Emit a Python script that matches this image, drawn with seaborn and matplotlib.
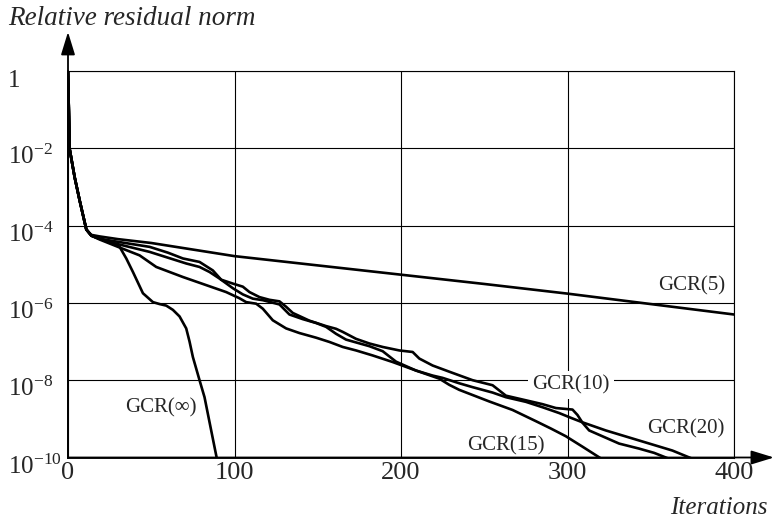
import numpy as np
import pandas as pd
import matplotlib
matplotlib.use("Agg")
import matplotlib.pyplot as plt
import matplotlib.transforms as mtransforms
from matplotlib.ticker import NullLocator
import seaborn as sns

# Convergence histories: iteration counts and log10 of the relative residual norm
gcr5_iter = [0, 1, 4, 7, 11, 14, 19, 30, 50, 75, 100, 150, 200, 250, 300, 350, 400]
gcr5_log = [0, -2.02, -2.75, -3.35, -4.1, -4.24, -4.28, -4.35, -4.45, -4.62, -4.79,
            -5.03, -5.27, -5.51, -5.76, -6.03, -6.3]

gcr10_iter = [0, 1, 4, 7, 11, 14, 19, 30, 49, 60, 69, 79, 87, 92, 99, 105, 109, 115,
              121, 127, 131, 135, 145, 155, 161, 165, 173, 181, 189, 199, 207, 211,
              219, 229, 243, 255, 263, 275, 285, 293, 303, 306, 309, 313, 322, 331,
              343, 352, 362]
gcr10_log = [0, -2.02, -2.75, -3.35, -4.1, -4.26, -4.34, -4.42, -4.55, -4.7, -4.85,
             -4.94, -5.16, -5.4, -5.5, -5.58, -5.72, -5.85, -5.92, -5.96, -6.1, -6.26,
             -6.46, -6.6, -6.67, -6.75, -6.93, -7.05, -7.14, -7.23, -7.27, -7.44,
             -7.62, -7.78, -8.0, -8.13, -8.4, -8.52, -8.62, -8.72, -8.76, -8.9, -9.1,
             -9.3, -9.47, -9.64, -9.77, -9.88, -10.05]

gcr15_iter = [0, 1, 4, 7, 11, 14, 19, 30, 43, 53, 69, 83, 95, 103, 107, 113, 117, 123,
              131, 139, 149, 157, 165, 173, 183, 195, 209, 223, 229, 235, 253, 267,
              281, 290, 299, 309, 321]
gcr15_log = [0, -2.02, -2.75, -3.35, -4.1, -4.26, -4.36, -4.55, -4.77, -5.07, -5.33,
             -5.54, -5.72, -5.88, -5.98, -6.02, -6.15, -6.45, -6.66, -6.78, -6.9,
             -7.01, -7.14, -7.23, -7.36, -7.53, -7.75, -7.96, -8.12, -8.25, -8.55,
             -8.77, -9.06, -9.25, -9.45, -9.72, -10.05]

gcr20_iter = [0, 1, 4, 7, 11, 14, 19, 30, 49, 60, 71, 79, 85, 91, 99, 105, 111, 117,
              127, 133, 141, 149, 155, 161, 167, 181, 189, 197, 209, 219, 225, 235,
              243, 255, 263, 275, 285, 295, 303, 309, 323, 343, 363, 376]
gcr20_log = [0, -2.02, -2.75, -3.35, -4.1, -4.26, -4.34, -4.48, -4.68, -4.83, -4.98,
             -5.07, -5.2, -5.37, -5.62, -5.78, -5.89, -5.93, -6.04, -6.3, -6.42,
             -6.52, -6.62, -6.8, -6.95, -7.12, -7.25, -7.52, -7.75, -7.88, -7.94,
             -8.08, -8.18, -8.32, -8.44, -8.56, -8.7, -8.85, -8.99, -9.09, -9.3,
             -9.56, -9.82, -10.05]

gcrinf_iter = [0, 1, 4, 7, 11, 14, 19, 25, 31, 35, 39, 45, 51, 55, 59, 63, 67, 71, 73,
               75, 79, 82, 86, 89.5]
gcrinf_log = [0, -2.02, -2.75, -3.35, -4.1, -4.26, -4.34, -4.42, -4.55, -4.85, -5.2,
              -5.75, -5.98, -6.03, -6.07, -6.18, -6.35, -6.66, -7.0, -7.4, -8.0,
              -8.44, -9.3, -10.05]

methods = ["GCR(5)", "GCR(10)", "GCR(15)", "GCR(20)", "GCR(\u221e)"]

# Curve labels: iteration position and log10 residual position
label_iter = [374.5, 302, 263, 371, 56]
label_log = [-5.57, -8.13, -9.69, -9.27, -8.72]

x_ticks = [0, 100, 200, 300, 400]
x_tick_labels = ["0", "100", "200", "300", "400"]
y_ticks = [1, 1e-2, 1e-4, 1e-6, 1e-8, 1e-10]
y_tick_labels = ["1", "$10^{-2}$", "$10^{-4}$", "$10^{-6}$", "$10^{-8}$", "$10^{-10}$"]

sns.set_style("white")
plt.rcParams["font.family"] = ["Liberation Serif", "DejaVu Serif"]
plt.rcParams["mathtext.fontset"] = "custom"
plt.rcParams["mathtext.rm"] = "Liberation Serif"
plt.rcParams["mathtext.it"] = "Liberation Serif:italic"
plt.rcParams["mathtext.bf"] = "Liberation Serif:bold"

histories = [(methods[0], gcr5_iter, gcr5_log),
             (methods[1], gcr10_iter, gcr10_log),
             (methods[2], gcr15_iter, gcr15_log),
             (methods[3], gcr20_iter, gcr20_log),
             (methods[4], gcrinf_iter, gcrinf_log)]
df = pd.concat([
    pd.DataFrame({"iteration": it, "residual": 10.0 ** np.asarray(lg), "method": name})
    for name, it, lg in histories
], ignore_index=True)

fig = plt.figure(figsize=(7.75, 5.2), dpi=100)
ax = fig.add_axes([68 / 775, 1 - 457.5 / 520, 666 / 775, 386.5 / 520])
ax.set_yscale("log")

sns.lineplot(data=df, x="iteration", y="residual", hue="method",
             palette={m: "black" for m in methods}, linewidth=1.9,
             estimator=None, sort=False, legend=False, ax=ax, zorder=3)

ax.set_xlim(0, 400)
ax.set_ylim(1e-10, 1)
ax.set_xticks(x_ticks, x_tick_labels)
ax.set_yticks(y_ticks, y_tick_labels)
ax.yaxis.set_minor_locator(NullLocator())
ax.grid(True, color="black", linewidth=0.8)
ax.set_axisbelow(True)

ax.tick_params(axis="both", length=0)
ax.tick_params(axis="x", pad=3, labelsize=19)
ax.tick_params(axis="y", pad=43, labelsize=18)

# y tick labels: left aligned, digits hanging just below their grid line
shift = mtransforms.ScaledTranslation(0, -16 / 100, fig.dpi_scale_trans)
for lbl in ax.get_yticklabels():
    lbl.set_ha("left")
    lbl.set_va("baseline")
    lbl.set_transform(lbl.get_transform() + shift)

for side in ["top", "right"]:
    ax.spines[side].set_visible(True)
    ax.spines[side].set_linewidth(0.8)
    ax.spines[side].set_color("black")
for side in ["left", "bottom"]:
    ax.spines[side].set_linewidth(1.3)
    ax.spines[side].set_color("black")

# Axis arrows
arrow_kw = dict(arrowstyle="-|>,head_length=14,head_width=4.3", mutation_scale=1,
                color="black", lw=1.3, shrinkA=0, shrinkB=0)
ax.annotate("", xy=(0, 1.101), xycoords="axes fraction", xytext=(0, 0),
            textcoords="axes fraction", arrowprops=arrow_kw, annotation_clip=False)
ax.annotate("", xy=(1.060, 0), xycoords="axes fraction", xytext=(0, 0),
            textcoords="axes fraction", arrowprops=arrow_kw, annotation_clip=False)

ax.set_ylabel("Relative residual norm", rotation=0, ha="left", va="baseline",
              fontstyle="italic", fontsize=19.5)
ax.yaxis.set_label_coords(-0.090, 1.119)
ax.set_xlabel("Iterations", ha="right", va="baseline", fontstyle="italic", fontsize=18)
ax.xaxis.set_label_coords(1.051, -0.146)

for name, lx, ly in zip(methods, label_iter, label_log):
    kw = {}
    if name == "GCR(10)":
        kw["bbox"] = dict(facecolor="white", edgecolor="none", pad=3)
    ax.text(lx, 10.0 ** ly, name, ha="center", va="center", fontsize=15,
            zorder=4, **kw)

fig.savefig("out.png", dpi=100)
